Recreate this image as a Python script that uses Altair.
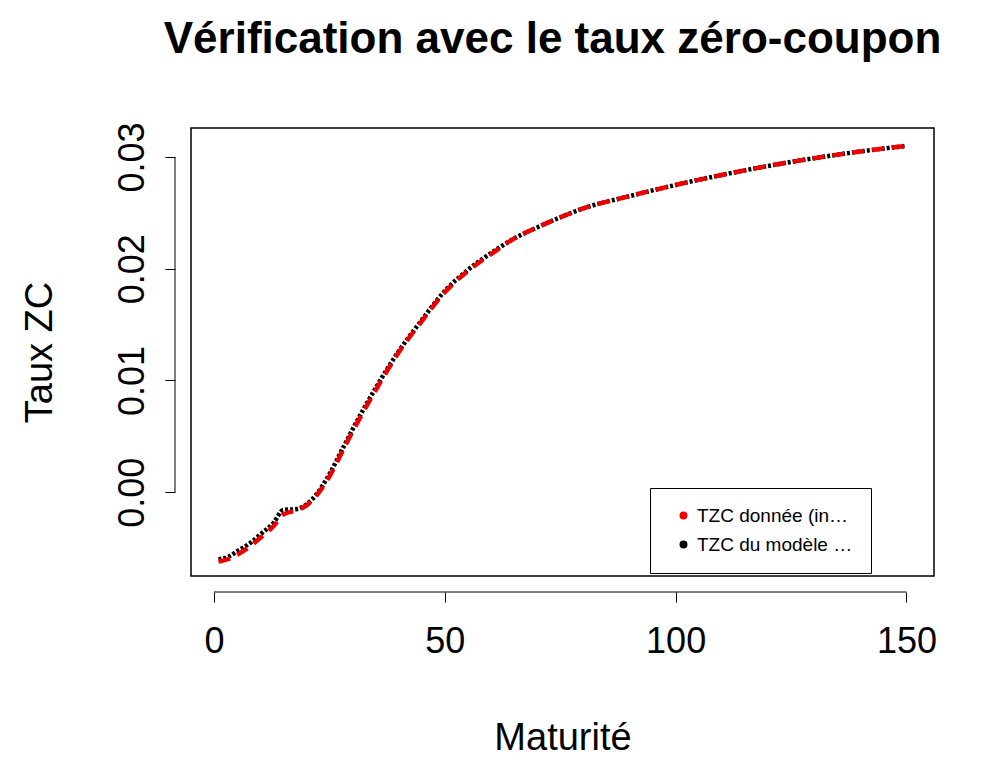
import pandas as pd
import altair as alt

# maturities and zero-coupon rates
maturite = [1, 3, 5, 8, 10, 13, 15, 18, 20, 22, 25, 28, 30, 35, 40, 45, 50, 55, 60, 65,
            70, 75, 80, 90, 100, 110, 120, 130, 140, 150]
tzc_input = [-0.0062, -0.0060, -0.0056, -0.0048, -0.0041, -0.0030, -0.0020, -0.0016, -0.0012, -0.0004,
             0.0014, 0.0038, 0.0054, 0.0091, 0.0125, 0.0153, 0.0179, 0.0198, 0.0213, 0.0227,
             0.0237, 0.0246, 0.0254, 0.0265, 0.0275, 0.0284, 0.0292, 0.0299, 0.0305, 0.0310]
tzc_hw = [-0.0060, -0.0058, -0.0053, -0.0045, -0.0038, -0.0027, -0.0016, -0.0015, -0.0011, -0.0003,
          0.0016, 0.0040, 0.0056, 0.0093, 0.0126, 0.0154, 0.0180, 0.0199, 0.0214, 0.0227,
          0.0237, 0.0246, 0.0254, 0.0265, 0.0275, 0.0284, 0.0292, 0.0299, 0.0305, 0.0310]

x_ticks = [0, 50, 100, 150]
y_ticks = [0.00, 0.01, 0.02, 0.03]

lbl_in = "TZC donnée (input)"
lbl_hw = "TZC du modèle HW"

df = pd.concat([
    pd.DataFrame({"m": maturite, "v": tzc_hw, "serie": lbl_hw}),
    pd.DataFrame({"m": maturite, "v": tzc_input, "serie": lbl_in}),
])

xs = alt.Scale(domain=[-4.96, 155.96], nice=False, zero=False)
ys = alt.Scale(domain=[-0.0075, 0.0326], nice=False, zero=False)
color = alt.Color("serie:N", sort=[lbl_in, lbl_hw],
                  scale=alt.Scale(domain=[lbl_in, lbl_hw], range=["#ee0000", "black"]),
                  legend=alt.Legend(title=None, orient="none", legendX=459, legendY=360,
                                    symbolType="circle", symbolSize=16, symbolStrokeWidth=4,
                                    labelFontSize=19, labelFont="Liberation Sans",
                                    strokeColor="black", fillColor="white",
                                    padding=18, rowPadding=8, symbolOffset=6))

base = alt.Chart(df).encode(
    x=alt.X("m:Q", scale=xs, title="Maturité",
            axis=alt.Axis(values=x_ticks, domain=False, tickSize=10, offset=16, tickColor="black",
                          labelFontSize=36, labelPadding=22, titleFontSize=38, titlePadding=60,
                          grid=False, titleFontWeight="normal")),
    y=alt.Y("v:Q", scale=ys, title="Taux ZC",
            axis=alt.Axis(values=y_ticks, format=".2f", domain=False, tickSize=10, offset=16,
                          tickColor="black", labelAngle=-90, labelAlign="center",
                          labelBaseline="bottom", labelFontSize=36, labelPadding=14,
                          titleFontSize=38, titlePadding=55, grid=False,
                          titleFontWeight="normal")),
    color=color,
)

hw_line = base.transform_filter(alt.datum.serie == lbl_hw).mark_line(
    strokeWidth=4.5, strokeDash=[3, 2], interpolate="monotone")
in_line = base.transform_filter(alt.datum.serie == lbl_in).mark_line(
    strokeWidth=4.5, strokeDash=[12, 8], interpolate="monotone")

xr = alt.Chart(pd.DataFrame({"a": [min(x_ticks)], "b": [max(x_ticks)]})).mark_rule(color="black").encode(
    x=alt.X("a:Q", scale=xs), x2="b:Q", y=alt.value(464))
yr = alt.Chart(pd.DataFrame({"a": [min(y_ticks)], "b": [max(y_ticks)]})).mark_rule(color="black").encode(
    y=alt.Y("a:Q", scale=ys), y2="b:Q", x=alt.value(-16))

chart = alt.layer(hw_line, in_line, xr, yr).properties(
    width=743, height=448,
    autosize=alt.AutoSizeParams(type="none"),
    padding={"left": 183, "top": 120, "right": 60, "bottom": 180},
    title=alt.TitleParams("Vérification avec le taux zéro-coupon", fontSize=44, fontWeight="bold",
                          font="Liberation Sans", offset=60, anchor="middle", color="black", dx=-10),
).configure_view(stroke="black", strokeWidth=1.5).configure_axis(
    labelFont="Liberation Sans", titleFont="Liberation Sans", labelColor="black", titleColor="black"
)

chart.save("out.html", embed_options={"renderer": "svg", "actions": False})
